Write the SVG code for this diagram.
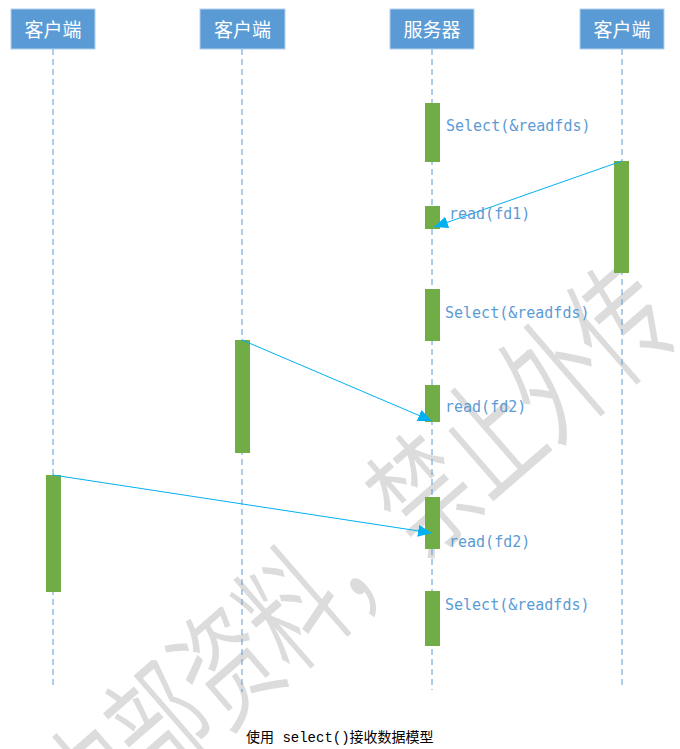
<svg xmlns="http://www.w3.org/2000/svg" width="680" height="749" viewBox="0 0 680 749">
<defs>
<style>
.hdr rect{fill:#5b9bd5;stroke:#b4d0ee;stroke-width:1}
.hdr text{fill:#ffffff;font-family:"Noto Sans CJK SC","Noto Sans",sans-serif;font-size:19px;text-anchor:middle}
.life{stroke:#5b9bd5;stroke-width:1;stroke-dasharray:6 4;fill:none}
.act{fill:#70ad47}
.msg{stroke:#00b0f0;stroke-width:1;fill:none;marker-end:url(#ah)}
.lbl{fill:#5b9bd5;font-family:"DejaVu Sans Mono","Liberation Mono",monospace;font-size:15px}
.wm{fill:#dcdcdc;font-family:"Noto Sans CJK SC",sans-serif;font-weight:350;font-size:112px;text-anchor:middle;dominant-baseline:central}
.cap{fill:#000000;font-family:"Liberation Mono","Noto Sans CJK SC",monospace;font-size:14px}
</style>
<marker id="ah" markerUnits="userSpaceOnUse" markerWidth="15" markerHeight="13" refX="14" refY="6" orient="auto">
<path d="M0,0 L14,6 L0,12 z" fill="#00b0f0"/>
</marker>
</defs>
<rect width="680" height="749" fill="#ffffff"/>
<g id="watermark">
<text class="wm" transform="translate(352,545) rotate(-41) scale(0.78,1.15)">内部资料，禁止外传</text>
</g>
<g id="lifelines">
<line class="life" x1="53" y1="49" x2="53" y2="685"/>
<line class="life" x1="242" y1="49" x2="242" y2="692"/>
<line class="life" x1="432" y1="49" x2="432" y2="690"/>
<line class="life" x1="622" y1="49" x2="622" y2="685"/>
</g>
<g id="client1"><g class="hdr"><rect x="11" y="9" width="84" height="40"/><text x="53" y="37">客户端</text></g><rect class="act" x="46" y="475" width="15" height="117"/></g>
<g id="client2"><g class="hdr"><rect x="200" y="9" width="85" height="40"/><text x="242.5" y="37">客户端</text></g><rect class="act" x="235" y="340" width="15" height="113"/></g>
<g id="server"><g class="hdr"><rect x="390" y="9" width="84" height="40"/><text x="432" y="37">服务器</text></g>
<rect class="act" x="425" y="103" width="15" height="59"/>
<rect class="act" x="425" y="206" width="15" height="23"/>
<rect class="act" x="425" y="289" width="15" height="52"/>
<rect class="act" x="425" y="385" width="15" height="37"/>
<rect class="act" x="425" y="497" width="15" height="52"/>
<rect class="act" x="425" y="591" width="15" height="55"/>
</g>
<g id="client3"><g class="hdr"><rect x="580" y="9" width="84" height="40"/><text x="622" y="37">客户端</text></g><rect class="act" x="614" y="161" width="15" height="112"/></g>
<g id="connectors">
<line class="msg" x1="622" y1="161" x2="434" y2="227"/>
<line class="msg" x1="242" y1="340" x2="432" y2="421"/>
<line class="msg" x1="53" y1="475" x2="432" y2="533"/>
</g>
<g id="labels">
<text class="lbl" x="446" y="131">Select(&amp;readfds)</text>
<text class="lbl" x="449" y="219">read(fd1)</text>
<text class="lbl" x="445" y="318">Select(&amp;readfds)</text>
<text class="lbl" x="445" y="412">read(fd2)</text>
<text class="lbl" x="449" y="547">read(fd2)</text>
<text class="lbl" x="445" y="610">Select(&amp;readfds)</text>
</g>
<text class="cap" x="246" y="742">使用 select()接收数据模型</text>
</svg>
